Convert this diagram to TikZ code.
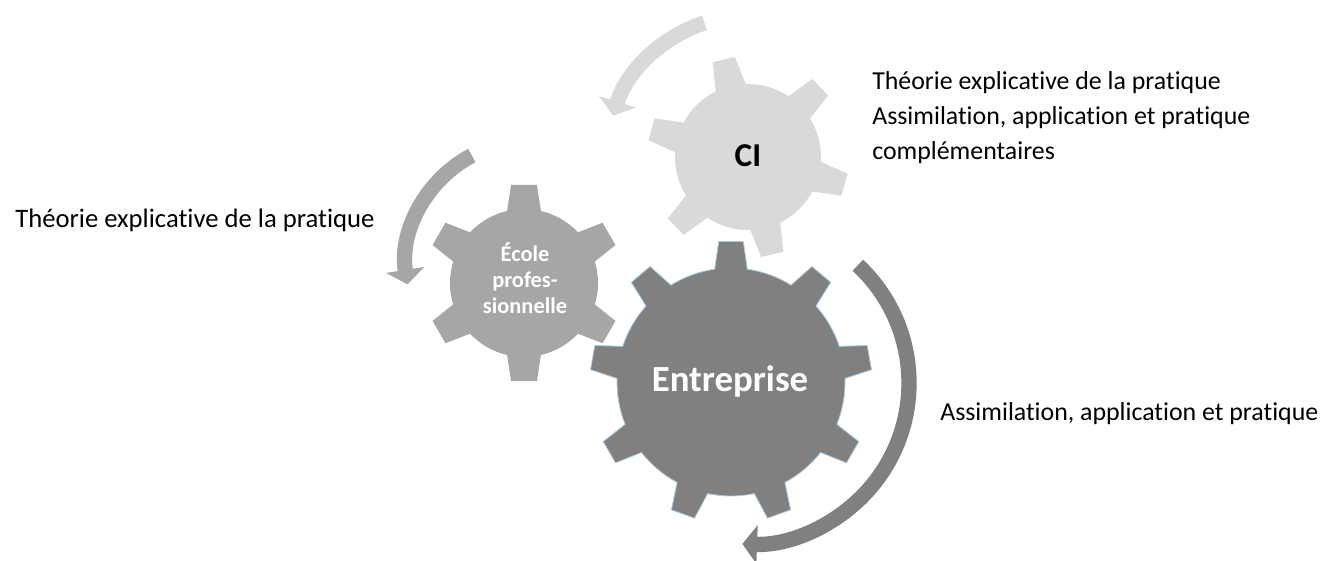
\documentclass[tikz,border=0pt]{standalone}
\usepackage{fontspec}
\setmainfont{Carlito}[Ligatures=NoCommon]
\usetikzlibrary{arrows.meta}

\definecolor{grigioci}{HTML}{D9D9D9}
\definecolor{grigioscuola}{HTML}{A6A6A6}
\definecolor{grigioazienda}{HTML}{808080}
\definecolor{bordoazienda}{HTML}{A9CBE3}

% ingranaggio: #1 stile, #2 centro, #3 raggio interno, #4 raggio esterno,
% #5 numero denti, #6 angolo primo dente, #7 semiangolo base, #8 semiangolo punta
\newcommand{\drawgear}[8]{%
  \path[#1, shift={#2}] ({#6-#7}:#3)
    \foreach \k in {1,...,#5} {
      -- ({#6+(\k-1)*360/#5-#8}:#4) -- ({#6+(\k-1)*360/#5+#8}:#4)
      -- ({#6+(\k-1)*360/#5+#7}:#3)
      arc[start angle={#6+(\k-1)*360/#5+#7}, end angle={#6+\k*360/#5-#7}, radius=#3]
    } -- cycle;%
}

\begin{document}
\begin{tikzpicture}[x=0.75pt, y=0.75pt,
    arrowarc/.style={line width=11.5pt, -{Triangle[length=11pt, width=28.5pt]}},
    gearlabel/.style={text=white, align=center, inner sep=0pt},
    sidelabel/.style={font=\fontsize{19.4}{26.25}\selectfont, align=left, inner sep=0pt}]
    \useasboundingbox (0,0) rectangle (1333,560);

    % Ingranaggio CI (in alto)
    \draw[arrowarc, grigioci] (748,403) ++(108:141) arc[start angle=108, end angle=163, radius=141];
    \drawgear{fill=grigioci}{(748,403)}{73}{101}{6}{104}{12.2}{6.5}
    \node[gearlabel, text=black, font=\fontsize{25}{30}\selectfont\bfseries, anchor=base] (ci) at (748,393) {CI};

    % Ingranaggio scuola professionale (a sinistra)
    \draw[arrowarc, grigioscuola] (530,295) ++(118:124) arc[start angle=118, end angle=189, radius=124];
    \drawgear{fill=grigioscuola}{(524,277)}{74}{99}{6}{90}{13.2}{7.5}
    \node[gearlabel, font=\fontsize{16.8}{19.5}\selectfont\bfseries] (ecole) at (525,282) {École\\profes-\\sionnelle};

    % Ingranaggio azienda (grande, in basso)
    \drawgear{fill=grigioazienda, draw=bordoazienda, line width=0.6pt}{(731,178)}{114}{141}{9}{90}{8.2}{5}
    \node[gearlabel, font=\fontsize{27.6}{33}\selectfont\bfseries, anchor=base] (entreprise) at (730,168) {Entreprise};
    \draw[arrowarc, grigioazienda] (748,177) ++(47:161) arc[start angle=47, end angle=-92, radius=161];

    % Testi laterali (ancorati alla linea di base dell'ultima riga)
    \node[sidelabel, font=\fontsize{20}{26.25}\selectfont, anchor=base west] (lblecole) at (15,332) {Théorie explicative de la pratique};
    \node[sidelabel, anchor=base west] (lblci) at (872,400) {Théorie explicative de la pratique\\Assimilation, application et pratique\\complémentaires};
    \node[sidelabel, anchor=base west] (lblentreprise) at (940,139) {Assimilation, application et pratique};
\end{tikzpicture}
\end{document}
